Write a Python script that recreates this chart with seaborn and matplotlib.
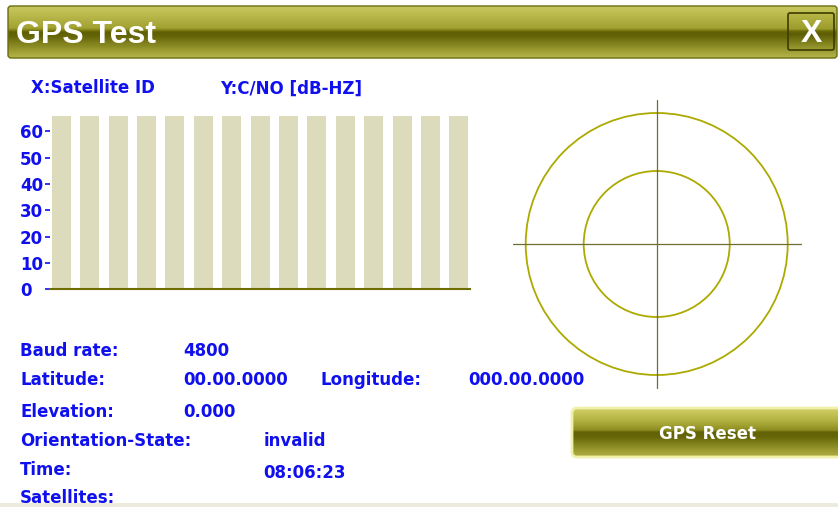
import numpy as np
import pandas as pd
import matplotlib
matplotlib.use('Agg')
import matplotlib.pyplot as plt
import seaborn as sns
from matplotlib.patches import FancyBboxPatch, Rectangle, Circle
from matplotlib.colors import to_rgb

# ---------------- data ----------------
sat_ids = ['1', '2', '3', '4', '5', '6', '7', '8', '9', '10', '11', '12', '13', '14', '15']
cn0_values = [66, 66, 66, 66, 66, 66, 66, 66, 66, 66, 66, 66, 66, 66, 66]
y_ticks = [0, 10, 20, 30, 40, 50, 60]
y_tick_labels = ['0', '10', '20', '30', '40', '50', '60']
ring_radii = [131, 73]
cross_half = 144

title = 'GPS Test'
x_axis_label = 'X:Satellite ID'
y_axis_label = 'Y:C/NO [dB-HZ]'
info_labels = ['Baud rate:', 'Latitude:', 'Elevation:', 'Orientation-State:', 'Time:', 'Satellites:']
info_values = ['4800', '00.00.0000', '0.000', 'invalid', '08:06:23', '']
lon_label = 'Longitude:'
lon_value = '000.00.0000'
button_text = 'GPS Reset'

# ---------------- style ----------------
sns.set_style('white')
plt.rcParams['font.family'] = ['DejaVu Sans']
BLUE = '#1010ee'
W, H = 838, 507

fig = plt.figure(figsize=(W / 100, H / 100), dpi=100, facecolor='white')


def px_rect(x0, y0, x1, y1):
    return [x0 / W, (H - y1) / H, (x1 - x0) / W, (y1 - y0) / H]


bg = fig.add_axes([0, 0, 1, 1], zorder=0)
bg.axis('off')


def grad_box(x0, y0, x1, y1, stops, rad, ec, lw, z=1):
    ys = np.linspace(y0, y1, 300)
    pos = [s[0] for s in stops]
    cols = np.array([to_rgb(s[1]) for s in stops])
    img = np.stack([np.interp(ys, pos, cols[:, k]) for k in range(3)], axis=-1)[:, None, :]
    im = bg.imshow(img, extent=(x0, x1, y1, y0), aspect='auto',
                   interpolation='bilinear', zorder=z)
    patch = FancyBboxPatch((x0, y0), x1 - x0, y1 - y0,
                           boxstyle=f'round,pad=0,rounding_size={rad}',
                           fc='none', ec=ec, lw=lw, zorder=z + 0.1)
    bg.add_patch(patch)
    im.set_clip_path(patch)


# title bar
title_stops = [(6, '#c8c862'), (10, '#c2c256'), (28, '#a2a232'), (30.5, '#7a7a10'),
               (32, '#5e5e04'), (36, '#646408'), (50, '#9a9a30'), (58, '#b6b64e')]
grad_box(8, 6, 837, 58, title_stops, 3, '#6c6c10', 1.0)
bg.text(16, 43, title, fontsize=23, fontweight='bold', color='white',
        family=['Liberation Sans', 'DejaVu Sans'], va='baseline', ha='left', zorder=5)

# close button
close_stops = [(13, '#b8b848'), (29, '#9c9c2c'), (31, '#6a6a08'), (34, '#5c5c04'),
               (45, '#8a8a24'), (50, '#a0a036')]
grad_box(788, 13, 834, 50, close_stops, 2, '#3c3c00', 1.2, z=2)
bg.text(811.5, 42, 'X', fontsize=23, fontweight='bold', color='white',
        family=['Liberation Sans', 'DejaVu Sans'],
        ha='center', va='baseline', zorder=5)

# GPS Reset button
btn_stops = [(408, '#d0d068'), (420, '#b4b444'), (430, '#8e8e20'), (432, '#626206'),
             (437, '#666608'), (450, '#9a9a30'), (457, '#b0b046')]
grad_box(572, 408, 845, 457, btn_stops, 5, '#f0f0aa', 2.0, z=2)
bg.text(707.5, 439.3, button_text, fontsize=12, fontweight='bold', color='white',
        ha='center', va='baseline', zorder=5)

# bottom strip
bg.add_patch(Rectangle((0, 503), W, 4, fc='#eeeadc', ec='none', zorder=1))

# axis caption labels
bg.text(31, 93.3, x_axis_label, fontsize=12, fontweight='bold', color=BLUE, va='baseline')
bg.text(220, 93.3, y_axis_label, fontsize=12, fontweight='bold', color=BLUE, va='baseline')

# info block
label_baselines = [356, 385, 417, 445.7, 475, 502.7]
value_x = [183, 183, 183, 263.5, 263.5, 263.5]
value_baselines = [356, 385, 417, 445.7, 477.7, 502.7]
for lab, val, yb, vx, vb in zip(info_labels, info_values, label_baselines, value_x, value_baselines):
    bg.text(20, yb, lab, fontsize=12, fontweight='bold', color=BLUE, va='baseline', zorder=5)
    if val:
        bg.text(vx, vb, val, fontsize=12, fontweight='bold', color=BLUE, va='baseline', zorder=5)
bg.text(320, 385, lon_label, fontsize=12, fontweight='bold', color=BLUE, va='baseline', zorder=5)
bg.text(468.3, 385, lon_value, fontsize=12, fontweight='bold', color=BLUE, va='baseline', zorder=5)

bg.set_xlim(0, W)
bg.set_ylim(H, 0)

# ---------------- bar chart ----------------
ax = fig.add_axes(px_rect(50, 115.7, 470.3, 289.3), zorder=2)
ax.patch.set_alpha(0)
sns.barplot(x=sat_ids, y=cn0_values, ax=ax, color='#dcdcbc', width=0.67,
            saturation=1, order=sat_ids, linewidth=0)
ax.set_xlim(-0.4, 14.4)
ax.set_ylim(0, 66)
for s in ['left', 'top', 'right']:
    ax.spines[s].set_visible(False)
ax.spines['bottom'].set_color('#6e6e00')
ax.spines['bottom'].set_linewidth(1.5)
ax.set_xticks([])
ax.set_xlabel('')
ax.set_ylabel('')
ax.set_yticks(y_ticks)
ax.set_yticklabels(y_tick_labels)
ax.tick_params(axis='y', left=True, colors=BLUE, length=3.6, width=1.2, pad=18, labelsize=12)
for lab in ax.get_yticklabels():
    lab.set_ha('left')
    lab.set_fontweight('bold')

# ---------------- sky plot ----------------
cx, cy = 656.7, 244
cax = fig.add_axes(px_rect(cx - 150, cy - 150, cx + 150, cy + 150), zorder=2)
cax.patch.set_alpha(0)
cax.set_xlim(-150, 150)
cax.set_ylim(-150, 150)
cax.axis('off')
for r in ring_radii:
    cax.add_patch(Circle((0, 0), r, fill=False, ec='#acaa00', lw=1.3))
cax.plot([-cross_half, cross_half], [0, 0], color='#6e6e30', lw=0.9)
cax.plot([0, 0], [-cross_half, cross_half], color='#6e6e30', lw=0.9)

fig.savefig('out.png', dpi=100, facecolor='white')
